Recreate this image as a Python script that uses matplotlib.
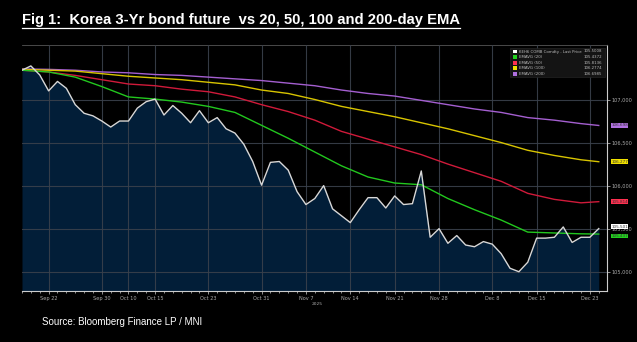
import numpy as np
import pandas as pd
import matplotlib
matplotlib.use("Agg")
import matplotlib.pyplot as plt

OUT = "out.png"

# trading days (Korea: Oct 3 and Oct 6-9 closed)
HOLIDAYS = ["2025-10-03", "2025-10-06", "2025-10-07", "2025-10-08", "2025-10-09"]
dates = [d for d in pd.bdate_range("2025-09-17", "2025-12-24")
         if d.strftime("%Y-%m-%d") not in HOLIDAYS]

price = [107.34, 107.39, 107.285, 107.10, 107.21, 107.13, 106.94, 106.84, 106.81, 106.75,
         106.68, 106.75, 106.75, 106.90, 106.975, 107.005, 106.82, 106.93, 106.84, 106.73,
         106.87, 106.73, 106.79, 106.66, 106.61, 106.48, 106.28, 106.005, 106.27, 106.28,
         106.18, 105.93, 105.78, 105.85, 106.00, 105.73, 105.65, 105.57, 105.72, 105.86,
         105.86, 105.74, 105.88, 105.78, 105.79, 106.17, 105.40, 105.50, 105.33, 105.42,
         105.31, 105.29, 105.35, 105.32, 105.21, 105.04, 105.00, 105.11, 105.39, 105.39,
         105.40, 105.52, 105.34, 105.40, 105.40, 105.5008]

ema_dates = ["2025-09-17", "2025-09-22", "2025-09-25", "2025-09-30", "2025-10-10",
             "2025-10-15", "2025-10-20", "2025-10-23", "2025-10-28", "2025-10-31",
             "2025-11-05", "2025-11-10", "2025-11-13", "2025-11-18", "2025-11-21",
             "2025-11-26", "2025-12-01", "2025-12-04", "2025-12-09", "2025-12-12",
             "2025-12-17", "2025-12-22", "2025-12-24"]
ema20 = [107.34, 107.32, 107.26, 107.15, 107.03, 107.005, 106.97, 106.92, 106.85, 106.70,
         106.55, 106.39, 106.23, 106.10, 106.03, 106.01, 105.85, 105.72, 105.60, 105.46,
         105.45, 105.44, 105.4372]
ema50 = [107.34, 107.32, 107.28, 107.23, 107.18, 107.16, 107.12, 107.09, 107.03, 106.94,
         106.86, 106.76, 106.63, 106.54, 106.45, 106.36, 106.25, 106.15, 106.05, 105.91,
         105.84, 105.80, 105.8136]
ema100 = [107.35, 107.34, 107.33, 107.30, 107.27, 107.25, 107.23, 107.20, 107.17, 107.11,
          107.07, 107.00, 106.92, 106.86, 106.80, 106.73, 106.66, 106.58, 106.50, 106.41,
          106.35, 106.30, 106.2774]
ema200 = [107.355, 107.35, 107.34, 107.32, 107.31, 107.29, 107.28, 107.26, 107.24, 107.22,
          107.19, 107.16, 107.11, 107.07, 107.04, 106.99, 106.94, 106.89, 106.85, 106.79,
          106.76, 106.72, 106.6985]

legend_names = ["KEH6 COMB Comdty - Last Price", "EMAVG (20)", "EMAVG (50)",
                "EMAVG (100)", "EMAVG (200)"]
tick_days = ["2025-09-22", "2025-09-30", "2025-10-10", "2025-10-15", "2025-10-23",
             "2025-10-31", "2025-11-07", "2025-11-14", "2025-11-21", "2025-11-28",
             "2025-12-08", "2025-12-15", "2025-12-23"]
yticks = [105.0, 105.5, 106.0, 106.5, 107.0]

C_PRICE = "#d8d8d8"
C_FILL = "#021e38"
C_EMA = ["#22c81e", "#d01a3a", "#d8c400", "#a45fd0"]
TAG_BG = ["#ffffff", "#22d01e", "#ff3050", "#f0e000", "#b070e0"]
TAG_NUDGE = [1.4, -1.4, 0, 0, 0]   # points, keeps the two close tags apart


def main():
    day_pos = {d.strftime("%Y-%m-%d"): i for i, d in enumerate(dates)}
    x = np.arange(len(dates))
    ex = [day_pos[d] for d in ema_dates]

    fig = plt.figure(figsize=(6.37, 3.42), dpi=100, facecolor="black")
    ax = fig.add_axes([22 / 637, 1 - 291 / 342, 585 / 637, 246 / 342])
    ax.set_facecolor("black")
    ax.set_xlim(0.34, 65.93)
    ax.set_ylim(104.776, 107.633)
    y0 = ax.get_ylim()[0]

    ax.fill_between(x, price, y0, color=C_FILL, lw=0, zorder=1)
    ax.grid(color="#3a414c", lw=0.8, alpha=0.9, zorder=1.5)
    ax.set_axisbelow(False)
    for vals, c in zip([ema200, ema100, ema50, ema20], C_EMA[::-1]):
        ax.plot(ex, vals, color=c, lw=1.0, zorder=3)
    ax.plot(x, price, color=C_PRICE, lw=1.0, zorder=4)

    # axes styling
    ax.spines["left"].set_visible(False)
    ax.spines["top"].set_color("#555555")
    ax.spines["top"].set_linewidth(0.6)
    ax.spines["right"].set_color("#cccccc")
    ax.spines["bottom"].set_color("#cccccc")
    ax.yaxis.tick_right()
    ax.set_yticks(yticks)
    ax.set_yticklabels([f"{v:.3f}".replace(".", ",") for v in yticks])
    ax.set_xticks([day_pos[d] for d in tick_days])
    ax.set_xticklabels([pd.Timestamp(d).strftime("%b %-d") for d in tick_days])
    ax.set_xticks(x, minor=True)
    ax.tick_params(axis="both", colors="#cccccc", labelcolor="#aaaaaa",
                   labelsize=3.6, length=2, width=0.5, pad=1.5)
    ax.tick_params(axis="x", which="minor", colors="#cccccc", length=1.2, width=0.5)
    ax.text(day_pos["2025-11-07"] + 0.6, -0.045, "2025", transform=ax.get_xaxis_transform(),
            fontsize=3.2, color="#aaaaaa", ha="left", va="top")

    # right-side value tags
    last_vals = [price[-1], ema20[-1], ema50[-1], ema100[-1], ema200[-1]]
    for v, bg, nd in zip(last_vals, TAG_BG, TAG_NUDGE):
        ax.annotate(f"{v:.3f}", xy=(1.0, v), xycoords=("axes fraction", "data"),
                    xytext=(3, nd), textcoords="offset points", fontsize=3.0,
                    color="#333333", va="center", ha="left", annotation_clip=False,
                    bbox=dict(boxstyle="square,pad=0.1", fc=bg, ec="none"))

    # Bloomberg style legend box
    lx0, lx1, ly0, dy = 513 / 637, 602 / 637, 1 - 51.5 / 342, 5.6 / 342
    fig.patches.append(plt.Rectangle((lx0 - 0.004, ly0 - 4.6 * dy), lx1 - lx0 + 0.008,
                                     5.3 * dy, transform=fig.transFigure,
                                     fc="#141414", ec="#2a2a2a", lw=0.4, zorder=5))
    for i, (name, v, bg) in enumerate(zip(legend_names, last_vals, TAG_BG)):
        yy = ly0 - i * dy
        fig.patches.append(plt.Rectangle((lx0, yy - 1.8 / 342), 4 / 637, 3.8 / 342,
                                         transform=fig.transFigure, fc=bg, ec="none",
                                         zorder=6))
        fig.text(lx0 + 6 / 637, yy, name, fontsize=2.8, color="#bbbbbb", va="center",
                 zorder=7)
        fig.text(lx1, yy, f"{v:.4f}", fontsize=2.8, color="#bbbbbb", va="center",
                 ha="right", zorder=7)

    title = "Fig 1:  Korea 3-Yr bond future  vs 20, 50, 100 and 200-day EMA"
    t = fig.text(22 / 637, 1 - 20 / 342, title, fontsize=10.6, weight="bold",
                 color="white", va="center", ha="left", family="Liberation Sans")
    fig.canvas.draw()
    bb = t.get_window_extent().transformed(fig.transFigure.inverted())
    fig.add_artist(plt.Line2D([bb.x0, bb.x1], [bb.y0 - 0.003, bb.y0 - 0.003],
                              color="white", lw=0.9, transform=fig.transFigure))
    fig.text(42 / 637, 1 - 322 / 342, "Source: Bloomberg Finance LP / MNI", fontsize=7,
             color="white", va="center", ha="left", family="Liberation Sans")

    fig.savefig(OUT, dpi=100, facecolor="black")


if __name__ == "__main__":
    main()
